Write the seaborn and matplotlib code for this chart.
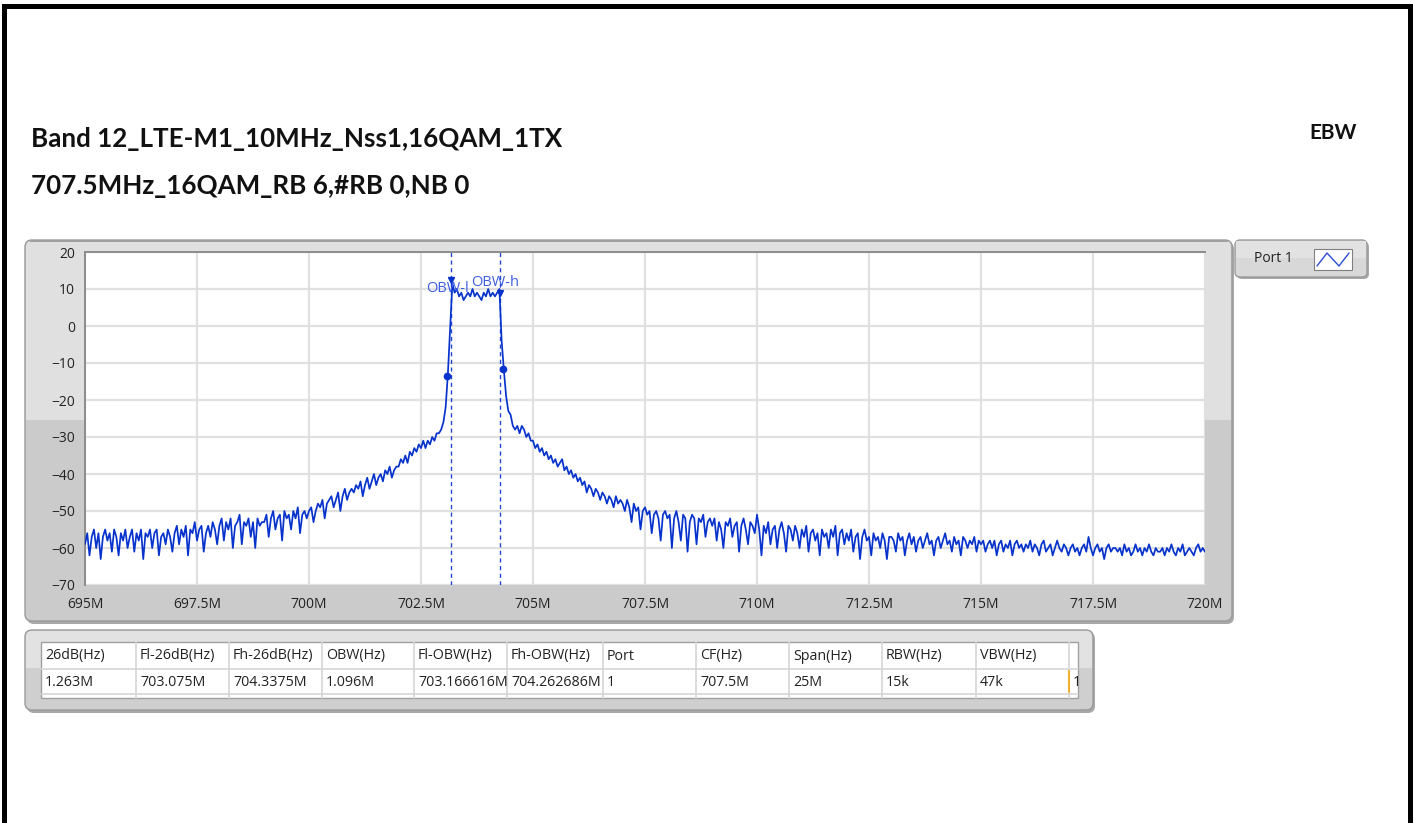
import numpy as np
import pandas as pd
import matplotlib
matplotlib.use("Agg")
import matplotlib.pyplot as plt
import seaborn as sns
from matplotlib.patches import FancyBboxPatch, Rectangle
from matplotlib.lines import Line2D

# ---- chart data ----
title_1 = "Band 12_LTE-M1_10MHz_Nss1,16QAM_1TX"
title_2 = "707.5MHz_16QAM_RB 6,#RB 0,NB 0"
corner_label = "EBW"
trace_name = "Port 1"

sweep_start = 695.0  # MHz
sweep_stop = 720.0   # MHz

# trace levels (dBm), one point per 50 kHz
left_skirt_db = [
    -59, -56, -62, -57, -55, -60, -56, -63, -57, -55, -58, -56, -61, -55, -57, -62, -56, -58, -55, -60,
    -57, -55, -61, -56, -58, -55, -63, -56, -57, -55, -60, -56, -55, -62, -57, -56, -59, -55, -57, -61,
    -56, -54, -59, -55, -57, -54, -62, -55, -56, -53, -58, -55, -54, -61, -56, -54, -57, -53, -55, -59,
    -54, -52, -58, -53, -55, -52, -60, -54, -53, -51, -59, -53, -54, -52, -57, -53, -60, -52, -54, -53,
    -53, -51, -57, -52, -50, -55, -52, -51, -58, -50, -52, -51, -55, -50, -52, -49, -56, -51, -50, -52,
    -50, -49, -53, -50, -48, -49, -47, -52, -48, -47, -46, -49, -47, -45, -50, -46, -44, -47, -45, -44,
    -45, -43, -44, -42, -46, -43, -41, -44, -42, -40, -43, -41, -40, -42, -39, -40, -38, -41, -39, -38,
    -38, -36, -37, -35, -37, -34, -35, -33, -34, -32, -33, -31, -33, -31, -32, -30, -31, -29, -29, -28,
    -26, -22, -13,
]
channel_db = [
    -1, 11.5,
    9, 10, 8, 9, 7, 8, 9, 8, 10, 8, 9, 8, 7, 9, 8, 10, 8, 9, 8, 9, 10,
    -4, -12, -19, -23, -24, -27, -28, -27, -29, -27, -28, -30, -29, -31,
]
right_skirt_db = [
    -31, -33, -32, -34, -33, -35, -34, -36, -35, -37, -36, -38, -37, -36, -39, -38, -40, -39, -41, -40,
    -42, -41, -43, -42, -45, -43, -44, -46, -44, -45, -47, -45, -46, -48, -46, -47, -49, -46, -48, -47,
    -48, -50, -47, -49, -53, -48, -50, -49, -55, -50, -49, -51, -50, -56, -51, -50, -52, -58, -51, -50,
    -52, -51, -60, -52, -50, -53, -58, -51, -52, -61, -53, -51, -52, -59, -52, -53, -51, -57, -53, -52,
    -54, -52, -58, -53, -55, -60, -53, -54, -52, -57, -54, -53, -61, -54, -52, -55, -59, -53, -54, -56,
    -51, -55, -62, -54, -56, -53, -59, -55, -54, -60, -55, -53, -56, -61, -54, -55, -58, -54, -56, -60,
    -55, -57, -54, -61, -56, -55, -58, -56, -62, -55, -57, -56, -60, -55, -57, -54, -62, -56, -55, -59,
    -56, -58, -55, -61, -57, -56, -63, -57, -55, -58, -57, -62, -56, -58, -57, -60, -56, -58, -63, -57,
    -57, -58, -61, -56, -58, -57, -62, -58, -56, -59, -57, -61, -58, -57, -60, -58, -56, -59, -58, -62,
    -58, -57, -60, -58, -56, -59, -58, -61, -57, -59, -58, -62, -57, -58, -60, -58, -59, -57, -61, -58,
    -59, -58, -61, -59, -58, -60, -58, -62, -59, -58, -61, -59, -60, -58, -62, -59, -58, -60, -59, -61,
    -59, -60, -58, -61, -59, -60, -62, -59, -58, -61, -60, -59, -62, -60, -58, -60, -61, -59, -60, -62,
    -60, -59, -61, -60, -62, -60, -59, -61, -57, -60, -62, -60, -59, -61, -60, -63, -60, -59, -61, -60,
    -60, -61, -60, -62, -59, -61, -60, -62, -61, -59, -61, -60, -62, -60, -61, -59, -61, -62, -60, -61,
    -61, -60, -62, -60, -61, -59, -61, -62, -60, -61, -59, -62, -61, -60, -61, -62, -60, -59, -61, -60,
    -61,
]

x_ticks = [695, 697.5, 700, 702.5, 705, 707.5, 710, 712.5, 715, 717.5, 720]
x_tick_labels = ["695M", "697.5M", "700M", "702.5M", "705M", "707.5M",
                 "710M", "712.5M", "715M", "717.5M", "720M"]
y_ticks = [20, 10, 0, -10, -20, -30, -40, -50, -60, -70]

obw_low = 703.166616
obw_high = 704.262686
obw_marker_db = [12.5, 9.0]
f_low_26db = 703.075
f_high_26db = 704.3375
lvl_26db = [-13.5, -11.5]

table_headers = ["26dB(Hz)", "Fl-26dB(Hz)", "Fh-26dB(Hz)", "OBW(Hz)", "Fl-OBW(Hz)",
                 "Fh-OBW(Hz)", "Port", "CF(Hz)", "Span(Hz)", "RBW(Hz)", "VBW(Hz)", ""]
table_values = ["1.263M", "703.075M", "704.3375M", "1.096M", "703.166616M",
                "704.262686M", "1", "707.5M", "25M", "15k", "47k", "1"]

# ---- build the trace ----
levels = np.array(left_skirt_db + channel_db + right_skirt_db, dtype=float)
freq = np.linspace(sweep_start, sweep_stop, len(levels))
df = pd.DataFrame({"freq": freq, "level": levels})

sns.set_style("white")
plt.rcParams["font.family"] = ["Open Sans", "DejaVu Sans"]

W, H = 1413, 823
fig = plt.figure(figsize=(W / 100, H / 100), dpi=100)

# background canvas in pixel coords
bg = fig.add_axes([0, 0, 1, 1], zorder=0)
bg.set_xlim(0, W)
bg.set_ylim(H, 0)
bg.axis("off")


def rbox(x0, y0, x1, y1, fc, ec="none", lw=0, r=6, z=1):
    p = FancyBboxPatch((x0, y0), x1 - x0, y1 - y0,
                       boxstyle=f"round,pad=0,rounding_size={r}",
                       fc=fc, ec=ec, lw=lw, zorder=z)
    bg.add_patch(p)
    return p


def rect(x0, y0, x1, y1, fc, ec="none", lw=0, z=1):
    p = Rectangle((x0, y0), x1 - x0, y1 - y0, fc=fc, ec=ec, lw=lw, zorder=z)
    bg.add_patch(p)
    return p


# black frame around the screenshot
rect(2, 4, 1413, 9, "black", z=5)
rect(2, 4, 7, H, "black", z=5)
rect(1408, 4, 1413, H, "black", z=5)

# headings
bg.text(31, 139, title_1, fontsize=18.7, fontweight="bold", family="Lato",
        va="center", ha="left", color="#111111")
bg.text(31, 186, title_2, fontsize=18.7, fontweight="bold", family="Lato",
        va="center", ha="left", color="#111111")
bg.text(1357, 133, corner_label, fontsize=15, fontweight="bold", family="Lato",
        va="center", ha="right", color="#111111")

# graph panel
rbox(27, 242, 1234, 624, "#a8a8a8", r=7, z=1)
rbox(25, 240, 1232, 621, "#cbcbcb", ec="#9a9a9a", lw=1, r=7, z=2)
rbox(26, 241, 1231, 430, "#e0e0e0", r=6, z=3)
rect(26, 405, 1231, 420, "#e0e0e0", z=3)
rect(26, 420, 1231, 440, "#cbcbcb", z=3)
rect(30, 240, 1228, 242, "#a0a0a0", z=3)

# legend box
rbox(1237, 242, 1369, 279, "#a8a8a8", r=5, z=1)
rbox(1235, 240, 1367, 277, "#d8d8d8", ec="#9a9a9a", lw=1, r=5, z=2)
rect(1236, 241, 1366, 258, "#e2e2e2", z=3)
bg.text(1254, 259, trace_name, fontsize=10, va="center", ha="left", color="#222222", zorder=4)
rect(1314, 249, 1352, 270, "white", ec="#808080", lw=0.8, z=4)
bg.add_line(Line2D([1317, 1327, 1339, 1349], [266, 253, 266, 253], color="#2a4bd7", lw=1, zorder=5))

# table panel
rbox(27, 632, 1095, 713, "#a8a8a8", r=7, z=1)
rbox(25, 630, 1093, 710, "#cfcfcf", ec="#9a9a9a", lw=1, r=7, z=2)
rbox(26, 631, 1092, 680, "#e2e2e2", r=6, z=3)
rect(26, 668, 1092, 680, "#cfcfcf", z=3)
rect(41, 642, 1078, 698, "white", ec="#a0a0a0", lw=1, z=4)
col_edges = [41, 136, 229, 322, 414, 507, 603, 696, 789, 882, 976, 1069, 1078]
for y in [669, 694]:
    bg.add_line(Line2D([41, 1078], [y, y], color="#d6d6d6", lw=1.2, zorder=5))
for x in col_edges[1:-1]:
    bg.add_line(Line2D([x, x], [642, 698], color="#d6d6d6", lw=1.2, zorder=5))
for i, (hd, val) in enumerate(zip(table_headers, table_values)):
    x0, x1 = col_edges[i], col_edges[i + 1]
    clip = Rectangle((x0, 642), x1 - x0 - 1, 56, transform=bg.transData)
    for txt, yy in [(hd, 656), (val, 682)]:
        t = bg.text(x0 + 4, yy, txt, fontsize=10.3, va="center", ha="left",
                    color="#222222", zorder=6)
        t.set_clip_path(clip)
bg.add_line(Line2D([1069, 1069], [671, 692], color="#f0b030", lw=1.5, zorder=6))

# ---- spectrum axes ----
L, T, R, B = 85, 252, 1205, 585
ax = fig.add_axes([L / W, 1 - B / H, (R - L) / W, (B - T) / H], zorder=2)
ax.set_facecolor("white")
sns.lineplot(data=df, x="freq", y="level", ax=ax, color="#0733cc", lw=1.25,
             estimator=None, sort=False, zorder=3)

for f in [obw_low, obw_high]:
    ax.axvline(f, color="#2447d0", lw=1, ls=(0, (3, 2.5)), zorder=2)
ax.plot([f_low_26db, f_high_26db], lvl_26db, ls="none", marker="o", ms=4.5,
        color="#0733cc", zorder=4)
ax.plot([obw_low, obw_high], obw_marker_db, ls="none", marker="v", ms=4,
        color="#0733cc", zorder=4)
ax.text(obw_low - 0.56, 9.2, "OBW-l", fontsize=10.5, color="#3e5ee0", zorder=5)
ax.text(obw_low + 0.46, 10.8, "OBW-h", fontsize=10.5, color="#3e5ee0", zorder=5)

ax.set_xlim(sweep_start, sweep_stop)
ax.set_ylim(-70, 20)
ax.set_xticks(x_ticks)
ax.set_xticklabels(x_tick_labels)
ax.set_yticks(y_ticks)
ax.set_xlabel("")
ax.set_ylabel("")
ax.grid(True, color="#e0e0e0", lw=1.6)
ax.set_axisbelow(True)
for s in ["right", "bottom"]:
    ax.spines[s].set_visible(False)
for s in ["left", "top"]:
    ax.spines[s].set_color("#8c8c8c")
    ax.spines[s].set_linewidth(1.4)
ax.tick_params(axis="both", direction="out", length=5.5, width=1, color="#555555",
               labelsize=10, labelcolor="#222222")
ax.tick_params(axis="y", pad=1.5)
ax.tick_params(axis="x", pad=3)

fig.savefig("out.png", dpi=100, facecolor="white")
